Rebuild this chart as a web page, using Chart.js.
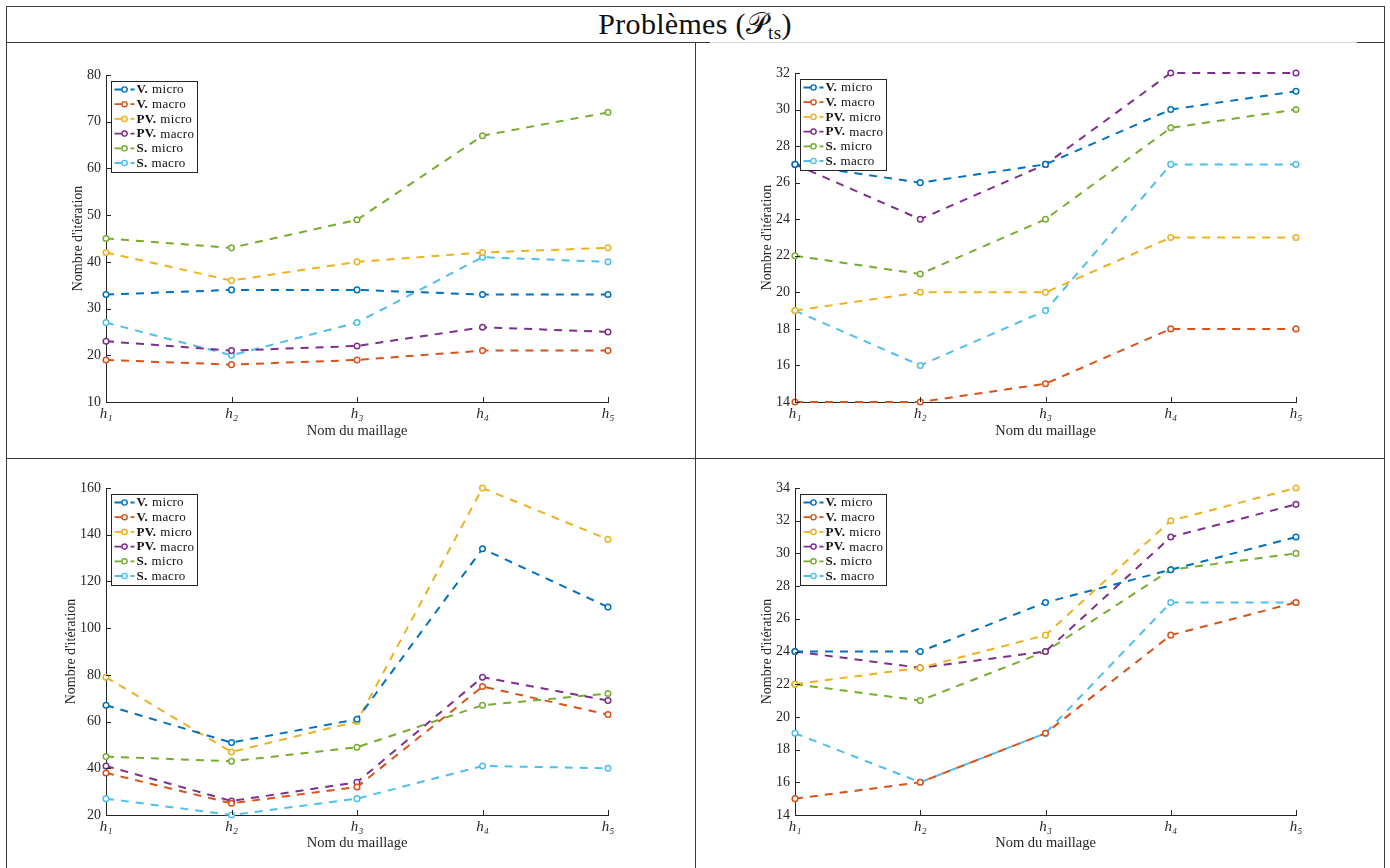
<!DOCTYPE html>
<html>
<head>
<meta charset="utf-8">
<script src="https://cdn.jsdelivr.net/npm/chart.js@4.4.0/dist/chart.umd.min.js"></script>
<style>
  body { margin: 0; background: #fff; width: 1390px; height: 868px; position: relative; overflow: hidden; font-family: "Liberation Serif", "DejaVu Serif", serif; }
  .ln { position: absolute; background: #3a3a3a; }
  .cell { position: absolute; }
  #titre { position: absolute; left: 6px; top: 6px; width: 1378px; height: 36px; text-align: center; font-size: 30px; line-height: 36px; color: #111; letter-spacing: 0.3px; }
  #titre i { font-family: "DejaVu Serif", serif; font-style: normal; }
  #titre sub { font-size: 19px; vertical-align: -5px; line-height: 0; }
</style>
</head>
<body>
<div id="titre">Problèmes (<i>𝒫</i><sub>ts</sub>)</div>
<div class="ln" style="left:6px;top:6px;width:1379px;height:1px"></div>
<div class="ln" style="left:6px;top:6px;width:1px;height:862px"></div>
<div class="ln" style="left:1384px;top:6px;width:1px;height:862px"></div>
<div class="ln" style="left:6px;top:42px;width:704px;height:1px"></div>
<div class="ln" style="left:710px;top:42px;width:647px;height:1px;background:#d8d8d8"></div>
<div class="ln" style="left:1357px;top:42px;width:28px;height:1px"></div>
<div class="ln" style="left:695px;top:43px;width:1px;height:825px"></div>
<div class="ln" style="left:6px;top:458px;width:1379px;height:1px"></div>

<div class="cell" style="left:7px;top:43px"><canvas id="c1" width="688" height="415"></canvas></div>
<div class="cell" style="left:696px;top:43px"><canvas id="c2" width="688" height="415"></canvas></div>
<div class="cell" style="left:7px;top:459px"><canvas id="c3" width="688" height="409"></canvas></div>
<div class="cell" style="left:696px;top:459px"><canvas id="c4" width="688" height="409"></canvas></div>

<script>
// Noms des maillages et des séries
const meshLabels = ["h\u2081", "h\u2082", "h\u2083", "h\u2084", "h\u2085"];
const seriesNames = ["V. micro", "V. macro", "PV. micro", "PV. macro", "S. micro", "S. macro"];
const seriesColors = ["#0072BD", "#D95319", "#EDB120", "#7E2F8E", "#77AC30", "#4DBEEE"];

// Graphique 1 (haut gauche)
const g1VMicro = [33, 34, 34, 33, 33];
const g1VMacro = [19, 18, 19, 21, 21];
const g1PVMicro = [42, 36, 40, 42, 43];
const g1PVMacro = [23, 21, 22, 26, 25];
const g1SMicro = [45, 43, 49, 67, 72];
const g1SMacro = [27, 20, 27, 41, 40];
const g1Ticks = [10, 80, 10];

// Graphique 2 (haut droite)
const g2VMicro = [27, 26, 27, 30, 31];
const g2VMacro = [14, 14, 15, 18, 18];
const g2PVMicro = [19, 20, 20, 23, 23];
const g2PVMacro = [27, 24, 27, 32, 32];
const g2SMicro = [22, 21, 24, 29, 30];
const g2SMacro = [19, 16, 19, 27, 27];
const g2Ticks = [14, 32, 2];

// Graphique 3 (bas gauche)
const g3VMicro = [67, 51, 61, 134, 109];
const g3VMacro = [38, 25, 32, 75, 63];
const g3PVMicro = [79, 47, 60, 160, 138];
const g3PVMacro = [41, 26, 34, 79, 69];
const g3SMicro = [45, 43, 49, 67, 72];
const g3SMacro = [27, 20, 27, 41, 40];
const g3Ticks = [20, 160, 20];

// Graphique 4 (bas droite)
const g4VMicro = [24, 24, 27, 29, 31];
const g4VMacro = [15, 16, 19, 25, 27];
const g4PVMicro = [22, 23, 25, 32, 34];
const g4PVMacro = [24, 23, 24, 31, 33];
const g4SMicro = [22, 21, 24, 29, 30];
const g4SMacro = [19, 16, 19, 27, 27];
const g4Ticks = [14, 34, 2];

const SERIF = "'Liberation Serif', 'DejaVu Serif', serif";
const AXE = "#262626";

// petits traits de graduation vers l'intérieur, façon MATLAB
const ticksInternes = {
    id: "ticksInternes",
    afterDraw(chart) {
        const ctx = chart.ctx;
        const a = chart.chartArea;
        const x = chart.scales.x, y = chart.scales.y;
        ctx.save();
        ctx.strokeStyle = AXE;
        ctx.lineWidth = 1;
        ctx.beginPath();
        x.ticks.forEach((t, i) => {
            const px = Math.round(x.getPixelForTick(i)) + 0.5;
            ctx.moveTo(px, a.bottom);
            ctx.lineTo(px, a.bottom - 5);
        });
        y.ticks.forEach((t, i) => {
            const py = Math.round(y.getPixelForTick(i)) + 0.5;
            ctx.moveTo(a.left, py);
            ctx.lineTo(a.left + 5, py);
        });
        ctx.stroke();
        ctx.restore();
    }
};

// légende avec la partie en gras (V., PV., S.)
const legendeMatlab = {
    id: "legendeMatlab",
    afterDatasetsDraw(chart) {
        const ctx = chart.ctx;
        const a = chart.chartArea;
        const bx = a.left + 5.5, by = a.top + 6.5;
        const bw = 86, bh = 91, pas = 14.7;
        ctx.save();
        ctx.fillStyle = "#fff";
        ctx.fillRect(bx, by, bw, bh);
        ctx.strokeStyle = AXE;
        ctx.lineWidth = 1;
        ctx.strokeRect(bx, by, bw, bh);
        chart.data.datasets.forEach((ds, i) => {
            const cy = by + 8 + i * pas;
            ctx.strokeStyle = ds.borderColor;
            ctx.lineWidth = 1.8;
            ctx.setLineDash([]);
            ctx.beginPath();
            ctx.moveTo(bx + 3, cy);
            ctx.lineTo(bx + 16, cy);
            ctx.moveTo(bx + 19, cy);
            ctx.lineTo(bx + 23, cy);
            ctx.stroke();
            ctx.lineWidth = 1.4;
            ctx.beginPath();
            ctx.arc(bx + 13, cy, 2.6, 0, Math.PI * 2);
            ctx.fillStyle = "#fff";
            ctx.fill();
            ctx.stroke();
            const [gras, reste] = ds.label.split(" ");
            ctx.fillStyle = "#111";
            ctx.textBaseline = "middle";
            ctx.letterSpacing = "0.3px";
            ctx.font = "bold 13px " + SERIF;
            ctx.fillText(gras, bx + 25, cy + 0.5);
            const w = ctx.measureText(gras).width + 4;
            ctx.font = "13px " + SERIF;
            ctx.fillText(reste, bx + 25 + w, cy + 0.5);
        });
        ctx.restore();
    }
};

function graphique(id, series, ticks, opt) {
    const [ymin, ymax, pas] = ticks;
    new Chart(document.getElementById(id), {
        type: "line",
        data: {
            labels: meshLabels,
            datasets: series.map((d, i) => ({
                label: seriesNames[i],
                data: d,
                borderColor: seriesColors[i],
                backgroundColor: "#fff",
                borderWidth: 2,
                borderDash: [8, 7],
                pointRadius: 2.8,
                pointBorderWidth: 1.5,
                pointBackgroundColor: "#fff",
                tension: 0,
                clip: false
            }))
        },
        options: {
            responsive: false,
            animation: false,
            layout: { padding: { left: 0, right: opt.right, top: opt.top, bottom: 0 } },
            plugins: { legend: { display: false }, tooltip: { enabled: false } },
            scales: {
                x: {
                    offset: false,
                    grid: { display: false, drawTicks: false },
                    border: { color: AXE, width: 1 },
                    ticks: { color: AXE, padding: 3, font: { family: SERIF, size: 15, style: "italic" }, maxRotation: 0 },
                    title: { display: true, text: "Nom du maillage", color: AXE, font: { family: SERIF, size: 14.5 }, padding: { top: 0, bottom: opt.xTitle } },
                    afterFit: s => { s.height = opt.xh; }
                },
                y: {
                    min: ymin, max: ymax,
                    grid: { display: false, drawTicks: false },
                    border: { color: AXE, width: 1 },
                    ticks: { stepSize: pas, color: AXE, padding: 5, font: { family: SERIF, size: 14 } },
                    title: { display: true, text: "Nombre d'itération", color: AXE, font: { family: SERIF, size: 14 }, padding: { top: opt.yTitle, bottom: 0 } },
                    afterFit: s => { s.width = 99; }
                }
            }
        },
        plugins: [ticksInternes, legendeMatlab]
    });
}

graphique("c1", [g1VMicro, g1VMacro, g1PVMicro, g1PVMacro, g1SMicro, g1SMacro], g1Ticks,
    { right: 87, top: 32, xh: 56, xTitle: 18, yTitle: 63 });
graphique("c2", [g2VMicro, g2VMacro, g2PVMicro, g2PVMacro, g2SMicro, g2SMacro], g2Ticks,
    { right: 88, top: 30, xh: 56, xTitle: 18, yTitle: 63 });
graphique("c3", [g3VMicro, g3VMacro, g3PVMicro, g3PVMacro, g3SMicro, g3SMacro], g3Ticks,
    { right: 87, top: 29, xh: 53, xTitle: 16, yTitle: 56 });
graphique("c4", [g4VMicro, g4VMacro, g4PVMicro, g4PVMacro, g4SMicro, g4SMacro], g4Ticks,
    { right: 88, top: 29, xh: 53, xTitle: 16, yTitle: 63 });
</script>
</body>
</html>
